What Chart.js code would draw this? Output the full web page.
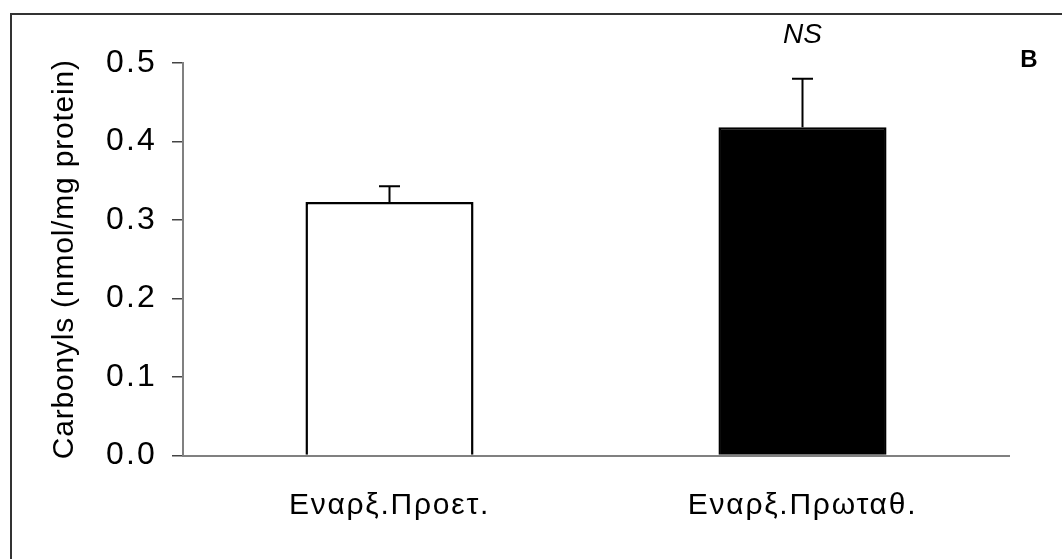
<!DOCTYPE html>
<html>
<head>
<meta charset="utf-8">
<script src="https://cdn.jsdelivr.net/npm/chart.js@4"></script>
<style>
  html, body { margin: 0; padding: 0; background: #fff; }
  #wrap { position: relative; width: 1062px; height: 559px; overflow: hidden; }
  #frame { position: absolute; left: 10px; top: 13px; width: 1100px; height: 600px;
           border-left: 2px solid #333; border-top: 2px solid #333; }
  canvas { position: absolute; left: 0; top: 0; }
</style>
</head>
<body>
<div id="wrap">
  <div id="frame"></div>
  <canvas id="c" width="1062" height="559"></canvas>
</div>
<script>
const categories = ['Εναρξ.Προετ.', 'Εναρξ.Πρωταθ.'];
const values = [0.323, 0.418];
const errors = [0.020, 0.062];
const annotations = ['', 'NS'];
const yTicks = [0.0, 0.1, 0.2, 0.3, 0.4, 0.5];
const yTitle = 'Carbonyls (nmol/mg protein)';
const panelLetter = 'B';

const FONT = "'Liberation Sans', Arial, sans-serif";
const SPACING = { xLabels: '1.75px', yLabels: '2.2px', yTitle: '0.8px' };

function withSpacing(ctx, sp, fn) {
  const old = ctx.letterSpacing;
  ctx.letterSpacing = sp;
  try { fn(); } finally { ctx.letterSpacing = old || '0px'; }
}

const spacingPatch = {
  id: 'spacingPatch',
  beforeDraw(chart) {
    const ctx = chart.ctx;
    ['x', 'y'].forEach(id => {
      const s = chart.scales[id];
      if (!s || s._spPatched) return;
      s._spPatched = true;
      const dl = s.drawLabels.bind(s);
      const dt = s.drawTitle.bind(s);
      s.drawLabels = function (a) { withSpacing(ctx, id === 'x' ? SPACING.xLabels : SPACING.yLabels, () => dl(a)); };
      s.drawTitle = function (a) { withSpacing(ctx, SPACING.yTitle, () => dt(a)); };
    });
  }
};

const extras = {
  id: 'extras',
  afterDatasetsDraw(chart) {
    const ctx = chart.ctx;
    const x = chart.scales.x, y = chart.scales.y;
    ctx.save();
    ctx.strokeStyle = '#000';
    ctx.lineWidth = 2;
    values.forEach((v, i) => {
      const px = x.getPixelForValue(i);
      const top = y.getPixelForValue(v + errors[i]);
      const base = y.getPixelForValue(v);
      ctx.beginPath();
      ctx.moveTo(px, base);
      ctx.lineTo(px, top);
      ctx.moveTo(px - 10.5, top);
      ctx.lineTo(px + 10.5, top);
      ctx.stroke();
      if (annotations[i]) {
        ctx.fillStyle = '#000';
        ctx.font = 'italic 28px ' + FONT;
        ctx.textAlign = 'center';
        ctx.textBaseline = 'middle';
        ctx.fillText(annotations[i], px, chart.chartArea.top - 28);
      }
    });
    ctx.fillStyle = '#000';
    ctx.font = 'bold 24px ' + FONT;
    ctx.textAlign = 'center';
    ctx.textBaseline = 'middle';
    ctx.fillText(panelLetter, chart.chartArea.right + 20, chart.chartArea.top - 3);
    ctx.restore();
  }
};

new Chart(document.getElementById('c'), {
  type: 'bar',
  data: {
    labels: categories,
    datasets: [{
      data: values,
      backgroundColor: ['#ffffff', '#000000'],
      borderColor: '#000000',
      borderWidth: 2.5,
      borderSkipped: 'bottom',
      barPercentage: 0.407,
      categoryPercentage: 1.0
    }]
  },
  options: {
    responsive: false,
    animation: false,
    devicePixelRatio: 1,
    layout: { padding: { left: 0, right: 53, top: 63, bottom: 0 } },
    plugins: { legend: { display: false }, tooltip: { enabled: false } },
    scales: {
      x: {
        grid: { display: false, drawTicks: false },
        border: { display: true, color: '#808080', width: 2 },
        ticks: { color: '#000', font: { family: FONT, size: 30 }, padding: 32, maxRotation: 0 },
        afterFit(s) { s.height = 103.5; }
      },
      y: {
        min: 0, max: 0.5,
        afterBuildTicks(s) { s.ticks = yTicks.map(v => ({ value: v })); },
        grid: { drawOnChartArea: false, drawTicks: true, tickLength: 11, color: '#444', lineWidth: 1.5 },
        border: { display: true, color: '#808080', width: 2 },
        ticks: { color: '#000', font: { family: FONT, size: 32 }, padding: 15,
                 callback: v => Number(v).toFixed(1) },
        title: { display: true, text: yTitle, color: '#000',
                 font: { family: FONT, size: 30 }, padding: { top: 47, bottom: 0 } },
        afterFit(s) { s.width = 183; }
      }
    }
  },
  plugins: [spacingPatch, extras]
});
</script>
</body>
</html>
